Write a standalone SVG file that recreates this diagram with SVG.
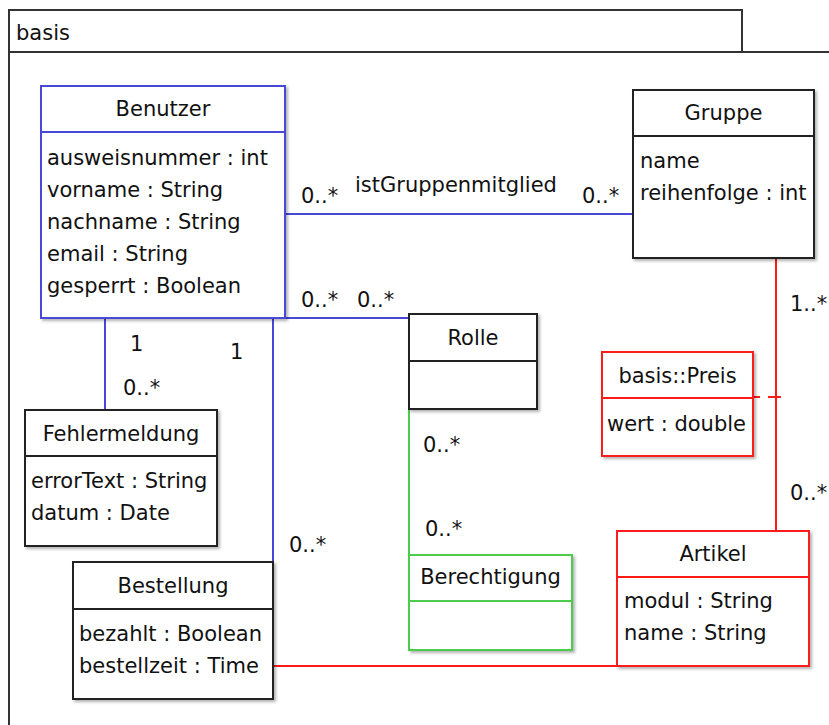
<svg xmlns="http://www.w3.org/2000/svg" width="829" height="725" viewBox="0 0 829 725">
<style>
  text { font-family: "DejaVu Sans", "Liberation Sans", sans-serif; font-size: 21px; fill: #111; }
  .c { text-anchor: middle; }
  .box { fill: #fff; stroke-width: 2; filter: url(#sh); }
  .div { stroke-width: 2; fill: none; }
  .k { stroke: #222; }
  .b { stroke: #4848d8; }
  .r { stroke: #ff1a1a; }
  .g { stroke: #4ccc4c; }
  .ln { fill: none; stroke-width: 2; }
</style>
<defs>
  <filter id="sh" x="-10%" y="-10%" width="130%" height="130%">
    <feDropShadow dx="2" dy="2" stdDeviation="1.5" flood-color="#000" flood-opacity="0.3"/>
  </filter>
</defs>
<rect width="829" height="725" fill="#fff"/>

<g id="package">
  <rect x="9" y="10" width="733" height="42" fill="#fff" stroke="#333" stroke-width="2"/>
  <path d="M9,52 H830 M9,52 V726" fill="none" stroke="#333" stroke-width="2"/>
  <text x="16" y="40">basis</text>
</g>

<g id="connectors">
  <line class="ln b" x1="285" y1="214" x2="633" y2="214"/>
  <line class="ln b" x1="285" y1="318" x2="409" y2="318"/>
  <line class="ln b" x1="105" y1="318" x2="105" y2="410"/>
  <line class="ln b" x1="273" y1="318" x2="273" y2="562"/>
  <line class="ln g" x1="409" y1="409" x2="409" y2="555"/>
  <line class="ln r" x1="776" y1="258" x2="776" y2="531"/>
  <line class="ln r" x1="273" y1="666" x2="617" y2="666"/>
  <line class="ln r" x1="753" y1="397" x2="781" y2="397" stroke-dasharray="7 8 13"/>
  <text x="301" y="203">0..*</text>
  <text x="355" y="192">istGruppenmitglied</text>
  <text x="582" y="203">0..*</text>
  <text x="301" y="307">0..*</text>
  <text x="357" y="307">0..*</text>
  <text x="790" y="311">1..*</text>
  <text x="130" y="351">1</text>
  <text x="123" y="395">0..*</text>
  <text x="230" y="359">1</text>
  <text x="289" y="552">0..*</text>
  <text x="423" y="452">0..*</text>
  <text x="425" y="536">0..*</text>
  <text x="790" y="500">0..*</text>
</g>

<g id="Benutzer">
  <rect class="box b" x="41" y="86" width="244" height="232"/>
  <line class="div b" x1="41" y1="132" x2="285" y2="132"/>
  <text class="c" x="163" y="116">Benutzer</text>
  <text x="47" y="165">ausweisnummer : int</text>
  <text x="47" y="197">vorname : String</text>
  <text x="47" y="229">nachname : String</text>
  <text x="47" y="261">email : String</text>
  <text x="47" y="293">gesperrt : Boolean</text>
</g>

<g id="Gruppe">
  <rect class="box k" x="633" y="90" width="181" height="168"/>
  <line class="div k" x1="633" y1="136" x2="814" y2="136"/>
  <text class="c" x="723.5" y="120">Gruppe</text>
  <text x="640" y="168">name</text>
  <text x="640" y="200">reihenfolge : int</text>
</g>

<g id="Rolle">
  <rect class="box k" x="409" y="314" width="128" height="95"/>
  <line class="div k" x1="409" y1="361" x2="537" y2="361"/>
  <text class="c" x="473" y="345">Rolle</text>
</g>

<g id="Fehlermeldung">
  <rect class="box k" x="25" y="410" width="192" height="136"/>
  <line class="div k" x1="25" y1="456" x2="217" y2="456"/>
  <text class="c" x="121" y="441">Fehlermeldung</text>
  <text x="31" y="488">errorText : String</text>
  <text x="31" y="520">datum : Date</text>
</g>

<g id="Bestellung">
  <rect class="box k" x="73" y="562" width="200" height="137"/>
  <line class="div k" x1="73" y1="609" x2="273" y2="609"/>
  <text class="c" x="173" y="593">Bestellung</text>
  <text x="79" y="641">bezahlt : Boolean</text>
  <text x="79" y="673">bestellzeit : Time</text>
</g>

<g id="Berechtigung">
  <rect class="box g" x="409" y="555" width="163" height="95"/>
  <line class="div g" x1="409" y1="601" x2="572" y2="601"/>
  <text class="c" x="490.5" y="584">Berechtigung</text>
</g>

<g id="Preis">
  <rect class="box r" x="602" y="352" width="151" height="104"/>
  <line class="div r" x1="602" y1="398" x2="753" y2="398"/>
  <text class="c" x="677.5" y="383">basis::Preis</text>
  <text x="607" y="431">wert : double</text>
</g>

<g id="Artikel">
  <rect class="box r" x="617" y="531" width="192" height="135"/>
  <line class="div r" x1="617" y1="577" x2="809" y2="577"/>
  <text class="c" x="713" y="561">Artikel</text>
  <text x="624" y="608">modul : String</text>
  <text x="624" y="640">name : String</text>
</g>
</svg>
